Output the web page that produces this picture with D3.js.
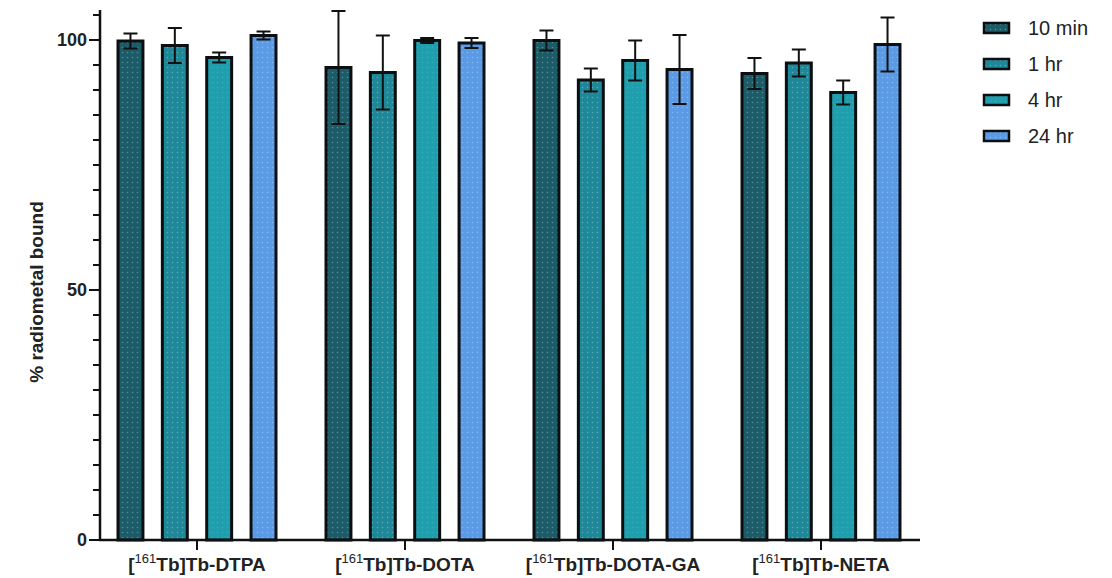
<!DOCTYPE html>
<html>
<head>
<meta charset="utf-8">
<script src="https://cdn.jsdelivr.net/npm/d3@7"></script>
<style>
  body { margin: 0; background: #fff; }
  svg text { font-family: "Liberation Sans", Arial, sans-serif; }
</style>
</head>
<body>
<svg id="chart" width="1112" height="578"></svg>
<script>
// data
const categories = ["DTPA", "DOTA", "DOTA-GA", "NETA"];
const series = ["10 min", "1 hr", "4 hr", "24 hr"];
const means = {
  "10 min": [99.8, 94.5, 99.9, 93.3],
  "1 hr":   [98.9, 93.5, 92.0, 95.4],
  "4 hr":   [96.5, 99.9, 95.9, 89.5],
  "24 hr":  [100.9, 99.4, 94.1, 99.1]
};
const errors = {
  "10 min": [1.5, 11.3, 2.0, 3.1],
  "1 hr":   [3.5, 7.4, 2.3, 2.7],
  "4 hr":   [1.0, 0.5, 4.0, 2.4],
  "24 hr":  [0.8, 1.0, 6.9, 5.4]
};
const yMajor = [0, 50, 100];
const colors = ["#1b5c68", "#1f8898", "#1f9fae", "#5b9be6"];

const svg = d3.select("#chart");
const plotLeft = 100, plotRight = 920, plotTop = 10, plotBottom = 540;

const y = d3.scaleLinear().domain([0, 106]).range([plotBottom, plotTop]);
const x0 = d3.scaleBand().domain(categories).range([93, 925]);
const x1 = d3.scaleBand().domain(series).range([0, x0.bandwidth()])
  .paddingInner(0.37).paddingOuter(0.53);
const color = d3.scaleOrdinal().domain(series).range(colors);

// dotted fills
const defs = svg.append("defs");
series.forEach((s, i) => {
  const p = defs.append("pattern")
    .attr("id", "pat" + i)
    .attr("patternUnits", "userSpaceOnUse")
    .attr("width", 5).attr("height", 5);
  p.append("rect").attr("width", 5).attr("height", 5).attr("fill", color(s));
  p.append("circle").attr("cx", 2.5).attr("cy", 2.5).attr("r", 0.8)
    .attr("fill", "#fff").attr("opacity", i === 2 ? 0.12 : 0.28);
});

// bars
const rows = [];
categories.forEach((c, ci) => series.forEach((s, si) => {
  rows.push({ cat: c, ser: s, si: si, v: means[s][ci], e: errors[s][ci] });
}));

const bw = x1.bandwidth();
svg.append("g").selectAll("rect")
  .data(rows)
  .enter()
  .append("rect")
  .attr("x", d => x0(d.cat) + x1(d.ser) + 1.5)
  .attr("y", d => y(d.v))
  .attr("width", bw - 3)
  .attr("height", d => y(0) - y(d.v))
  .attr("fill", d => "url(#pat" + d.si + ")")
  .attr("stroke", "#0b0f12")
  .attr("stroke-width", 3);

// error bars
const eb = svg.append("g").attr("stroke", "#111").attr("stroke-width", 2).attr("fill", "none");
const cx = d => x0(d.cat) + x1(d.ser) + bw / 2;
eb.selectAll("path")
  .data(rows)
  .enter()
  .append("path")
  .attr("d", d => {
    const c = cx(d), hi = y(d.v + d.e), lo = y(d.v - d.e);
    return `M${c},${hi}V${lo}M${c - 7},${hi}H${c + 7}M${c - 7},${lo}H${c + 7}`;
  });

// y axis
const yAxis = svg.append("g").attr("transform", `translate(${plotLeft},0)`);
yAxis.append("line").attr("y1", plotBottom).attr("y2", plotTop).attr("stroke", "#111").attr("stroke-width", 2.5);
yAxis.selectAll(".minor")
  .data(d3.range(0, 106, 5))
  .enter().append("line")
  .attr("x1", -7).attr("x2", 0)
  .attr("y1", d => y(d)).attr("y2", d => y(d))
  .attr("stroke", "#111").attr("stroke-width", 2);
yAxis.selectAll(".major")
  .data(yMajor)
  .enter().append("line")
  .attr("x1", -11).attr("x2", 0)
  .attr("y1", d => y(d)).attr("y2", d => y(d))
  .attr("stroke", "#111").attr("stroke-width", 2);
yAxis.selectAll("text")
  .data(yMajor)
  .enter().append("text")
  .attr("x", -13).attr("y", d => y(d))
  .attr("dy", "0.36em")
  .attr("text-anchor", "end")
  .attr("font-size", 18).attr("font-weight", "bold").attr("fill", "#222")
  .text(d => d);

svg.append("text")
  .attr("transform", `translate(43,${(plotTop + plotBottom) / 2 + 17}) rotate(-90)`)
  .attr("text-anchor", "middle")
  .attr("font-size", 19).attr("font-weight", "bold").attr("fill", "#222")
  .text("% radiometal bound");

// x axis
const xAxis = svg.append("g").attr("transform", `translate(0,${plotBottom})`);
xAxis.append("line").attr("x1", plotLeft - 1).attr("x2", plotRight).attr("stroke", "#111").attr("stroke-width", 2.5);
xAxis.selectAll(".tick")
  .data(categories)
  .enter().append("line")
  .attr("x1", d => x0(d) + x0.bandwidth() / 2)
  .attr("x2", d => x0(d) + x0.bandwidth() / 2)
  .attr("y1", 0).attr("y2", 10)
  .attr("stroke", "#111").attr("stroke-width", 2);
const lab = xAxis.selectAll("text")
  .data(categories)
  .enter().append("text")
  .attr("x", d => x0(d) + x0.bandwidth() / 2)
  .attr("y", 31)
  .attr("text-anchor", "middle")
  .attr("font-size", 19).attr("font-weight", "bold").attr("fill", "#222");
lab.append("tspan").text("[");
lab.append("tspan").attr("font-size", 13).attr("font-weight", "normal").attr("dy", -8).text("161");
lab.append("tspan").attr("dy", 8).text(d => "Tb]Tb-" + d);

// legend
const legend = svg.append("g").attr("transform", "translate(983,22)");
const li = legend.selectAll("g")
  .data(series)
  .enter().append("g")
  .attr("transform", (d, i) => `translate(0,${i * 36})`);
li.append("rect")
  .attr("x", 1).attr("y", 1).attr("width", 25).attr("height", 10)
  .attr("fill", (d, i) => "url(#pat" + i + ")")
  .attr("stroke", "#0b0f12").attr("stroke-width", 2.5);
li.append("text")
  .attr("x", 45).attr("y", 6).attr("dy", "0.36em")
  .attr("font-size", 20).attr("fill", "#222")
  .text(d => d);
</script>
</body>
</html>
